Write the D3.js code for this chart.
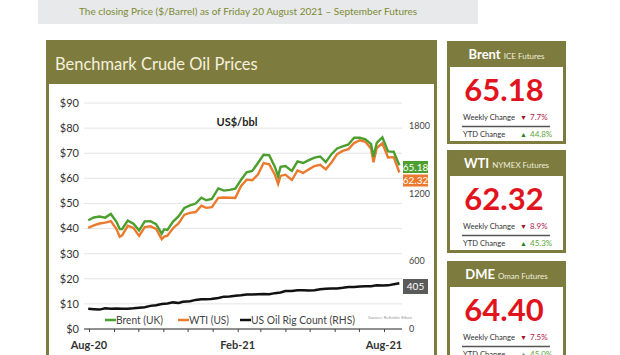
<!DOCTYPE html>
<html>
<head>
<meta charset="utf-8">
<script src="https://cdn.jsdelivr.net/npm/d3@7"></script>
<style>
  body { margin: 0; background: #fff; }
  svg { display: block; font-family: Lato, "Open Sans", sans-serif; }
</style>
</head>
<body>
<svg width="620" height="355"></svg>
<script>
// weekly closes, with a few mid-week lows
const priceDates = [
  "2020-07-31","2020-08-07","2020-08-14","2020-08-21","2020-08-28","2020-09-04","2020-09-08","2020-09-11",
  "2020-09-18","2020-09-25","2020-10-02","2020-10-09","2020-10-16","2020-10-23","2020-10-30","2020-11-02",
  "2020-11-06","2020-11-13","2020-11-20","2020-11-27","2020-12-04","2020-12-11","2020-12-18","2020-12-24",
  "2020-12-31","2021-01-08","2021-01-15","2021-01-22","2021-01-29","2021-02-05","2021-02-12","2021-02-19",
  "2021-02-26","2021-03-05","2021-03-12","2021-03-19","2021-03-23","2021-03-26","2021-04-01","2021-04-09",
  "2021-04-16","2021-04-23","2021-04-30","2021-05-07","2021-05-14","2021-05-21","2021-05-28","2021-06-04",
  "2021-06-11","2021-06-18","2021-06-25","2021-07-02","2021-07-09","2021-07-16","2021-07-19","2021-07-23",
  "2021-07-30","2021-08-06","2021-08-13","2021-08-20"
]
const brent = [
  43.3, 44.4, 44.8, 44.35, 45.81, 42.66, 39.78, 39.83,
  43.15, 41.92, 39.27, 42.85, 42.93, 41.77, 37.94, 39.71,
  39.45, 42.78, 44.96, 48.18, 49.25, 49.97, 52.26, 51.29,
  51.8, 55.99, 55.1, 55.41, 55.88, 59.34, 62.43, 62.91,
  66.13, 69.36, 69.22, 64.53, 60.79, 64.57, 64.86, 62.95,
  66.77, 66.11, 67.25, 68.28, 68.71, 66.44, 69.63, 71.89,
  72.69, 73.51, 76.18, 76.17, 75.55, 73.59, 68.62, 74.1,
  76.33, 70.7, 70.59, 65.18
]
const wti = [
  40.27, 41.22, 42.01, 42.34, 42.97, 39.77, 36.76, 37.33,
  41.11, 40.25, 37.05, 40.6, 40.88, 39.85, 35.79, 36.81,
  37.14, 40.13, 42.15, 45.53, 46.26, 46.57, 49.1, 48.23,
  48.52, 52.24, 52.36, 52.27, 52.2, 56.85, 59.47, 59.24,
  61.5, 66.09, 65.61, 61.42, 57.76, 60.97, 61.45, 59.32,
  63.13, 62.14, 63.58, 64.9, 65.37, 63.58, 66.32, 69.62,
  70.91, 71.64, 74.05, 75.16, 74.56, 71.81, 66.42, 72.07,
  73.95, 68.28, 68.44, 62.32
]

// Baker Hughes weekly US oil rigs
const rigDates = [
  "2020-07-31","2020-08-07","2020-08-14","2020-08-21","2020-08-28","2020-09-04","2020-09-11","2020-09-18",
  "2020-09-25","2020-10-02","2020-10-09","2020-10-16","2020-10-23","2020-10-30","2020-11-06","2020-11-13",
  "2020-11-20","2020-11-25","2020-12-04","2020-12-11","2020-12-18","2020-12-23","2020-12-30","2021-01-08",
  "2021-01-15","2021-01-22","2021-01-29","2021-02-05","2021-02-12","2021-02-19","2021-02-26","2021-03-05",
  "2021-03-12","2021-03-19","2021-03-26","2021-04-01","2021-04-09","2021-04-16","2021-04-23","2021-04-30",
  "2021-05-07","2021-05-14","2021-05-21","2021-05-28","2021-06-04","2021-06-11","2021-06-18","2021-06-25",
  "2021-07-02","2021-07-09","2021-07-16","2021-07-23","2021-07-30","2021-08-06","2021-08-13","2021-08-20"
]
const rigCount = [
  180, 176, 172, 183, 180, 181, 180, 179,
  183, 189, 193, 205, 211, 221, 226, 236,
  231, 241, 246, 258, 263, 264, 267, 275,
  287, 289, 295, 299, 306, 305, 309, 310,
  309, 318, 324, 337, 337, 344, 343, 342,
  344, 352, 356, 359, 359, 365, 373, 372,
  376, 378, 380, 387, 385, 387, 397, 405
]

const leftTicks = [0, 10, 20, 30, 40, 50, 60, 70, 80, 90]
const rightTicks = [0, 600, 1200, 1800]
const xLabels = ["2020-08-01", "2021-02-01", "2021-08-01"]

const cards = [
  { name: "Brent", sub: "ICE Futures", price: "65.18", weekly: "7.7%", ytd: "44.8%", top: 41 },
  { name: "WTI", sub: "NYMEX Futures", price: "62.32", weekly: "8.9%", ytd: "45.3%", top: 150 },
  { name: "DME", sub: "Oman Futures", price: "64.40", weekly: "7.5%", ytd: "45.0%", top: 261 }
]

const olive = "#7e7b3e"
const green = "#4c9f2f"
const orange = "#eb7a2e"

const parse = d3.timeParse("%Y-%m-%d")
const svg = d3.select("svg")

// top banner
svg.append("rect").attr("x", 38).attr("y", 0).attr("width", 440).attr("height", 24).attr("fill", "#e7e9eb")
svg.append("text").attr("x", 248).attr("y", 15).attr("text-anchor", "middle")
  .attr("font-size", 10).attr("fill", "#7d8a33")
  .text("The closing Price ($/Barrel) as of Friday 20 August 2021 \u2013 September Futures")

// main panel
svg.append("rect").attr("x", 47.5).attr("y", 41.5).attr("width", 388).attr("height", 320)
  .attr("fill", "#fff").attr("stroke", olive).attr("stroke-width", 3)
svg.append("rect").attr("x", 46).attr("y", 40).attr("width", 391).attr("height", 44).attr("fill", olive)
svg.append("text").attr("x", 55).attr("y", 70).attr("font-size", 16.5).attr("fill", "#f5f1dc")
  .text("Benchmark Crude Oil Prices")

const x = d3.scaleTime().domain([parse("2020-08-01"), parse("2021-08-01")]).range([89, 384])
const yL = d3.scaleLinear().domain([0, 90]).range([329, 103])
const yR = d3.scaleLinear().domain([0, 1800]).range([329, 126])

// gridlines
svg.append("g").selectAll("line").data(leftTicks.filter(d => d > 0)).join("line")
  .attr("x1", 84).attr("x2", 402)
  .attr("y1", d => yL(d)).attr("y2", d => yL(d))
  .attr("stroke", "#e4e4e4").attr("stroke-width", 1)

svg.append("g").selectAll("text").data(leftTicks).join("text")
  .attr("x", 79).attr("y", d => yL(d)).attr("dy", "0.35em").attr("text-anchor", "end")
  .attr("font-size", 11).attr("fill", "#333")
  .text(d => "$" + d)

svg.append("g").selectAll("text").data(rightTicks).join("text")
  .attr("x", 409).attr("y", d => yR(d)).attr("dy", "0.35em")
  .attr("font-size", 9).attr("fill", "#444")
  .text(d => d)

// x axis
const xAxis = d3.axisBottom(x)
  .ticks(d3.timeMonth.every(1))
  .tickSize(3)
  .tickFormat("")
const gx = svg.append("g").attr("transform", "translate(0,329)").call(xAxis)
gx.select(".domain").attr("d", "M84,0H402").attr("stroke", "#222")
gx.selectAll(".tick line").attr("stroke", "#444")

svg.append("g").selectAll("text").data(xLabels).join("text")
  .attr("x", d => x(parse(d))).attr("y", 349).attr("text-anchor", "middle")
  .attr("font-size", 11).attr("font-weight", "bold").attr("fill", "#333")
  .text(d => d3.timeFormat("%b-%y")(parse(d)))

svg.append("text").attr("x", 237).attr("y", 126).attr("text-anchor", "middle")
  .attr("font-size", 11).attr("font-weight", "bold").attr("fill", "#222").text("US$/bbl")

// lines
const prices = priceDates.map((d, i) => ({ date: parse(d), brent: brent[i], wti: wti[i] }))
const rigs = rigDates.map((d, i) => ({ date: parse(d), count: rigCount[i] }))

svg.append("path").datum(prices)
  .attr("fill", "none").attr("stroke", orange).attr("stroke-width", 2.4)
  .attr("d", d3.line().x(d => x(d.date)).y(d => yL(d.wti)))
svg.append("path").datum(prices)
  .attr("fill", "none").attr("stroke", green).attr("stroke-width", 2.4)
  .attr("d", d3.line().x(d => x(d.date)).y(d => yL(d.brent)))
svg.append("path").datum(rigs)
  .attr("fill", "none").attr("stroke", "#111").attr("stroke-width", 2.5)
  .attr("d", d3.line().x(d => x(d.date)).y(d => yR(d.count)))

// end value boxes
const endBoxes = [
  { label: brent[brent.length - 1].toFixed(2), y: 167, h: 12, fill: green },
  { label: wti[wti.length - 1].toFixed(2), y: 180.5, h: 12, fill: orange },
  { label: rigCount[rigCount.length - 1], y: 286.5, h: 15, fill: "#5a5a5a" }
]
const eb = svg.append("g").selectAll("g").data(endBoxes).join("g")
eb.append("rect").attr("x", 403).attr("y", d => d.y - d.h / 2).attr("width", 25).attr("height", d => d.h)
  .attr("fill", d => d.fill)
eb.append("text").attr("x", 415.5).attr("y", d => d.y).attr("dy", "0.35em").attr("text-anchor", "middle")
  .attr("font-size", 10).attr("fill", "#fff").text(d => d.label)

// legend
const legendItems = [
  { label: "Brent (UK)", color: green, x: 105, w: 47 },
  { label: "WTI (US)", color: orange, x: 178, w: 40 },
  { label: "US Oil Rig Count (RHS)", color: "#111", x: 240, w: 104 }
]
const lg = svg.append("g").selectAll("g").data(legendItems).join("g")
  .attr("transform", d => `translate(${d.x},320)`)
lg.append("line").attr("x1", 0).attr("x2", 11).attr("stroke", d => d.color).attr("stroke-width", 2.5)
lg.append("text").attr("x", 11).attr("dy", "0.35em").attr("font-size", 11.5).attr("fill", "#444")
  .attr("textLength", d => d.w).attr("lengthAdjust", "spacingAndGlyphs")
  .text(d => d.label)
svg.append("text").attr("x", 368).attr("y", 319).attr("font-size", 4.5).attr("fill", "#999")
  .text("Source: Refinitiv Eikon")

// price cards
const card = svg.append("g").selectAll("g").data(cards).join("g")
  .attr("transform", d => `translate(447,${d.top})`)
card.append("rect").attr("x", 1.5).attr("y", 1.5).attr("width", 116).attr("height", 100)
  .attr("fill", "#fff").attr("stroke", olive).attr("stroke-width", 3)
card.append("rect").attr("width", 119).attr("height", 26).attr("fill", olive)
const head = card.append("text").attr("x", 59.5).attr("y", 18).attr("text-anchor", "middle").attr("fill", "#fff")
head.append("tspan").attr("font-size", 13).attr("font-weight", "bold").text(d => d.name)
head.append("tspan").attr("font-size", 8).attr("dx", 3).attr("fill", "#f0eedd").text(d => d.sub)
card.append("text").attr("x", 57).attr("y", 60).attr("text-anchor", "middle")
  .attr("font-size", 31).attr("font-weight", "bold").attr("fill", "#e1131d")
  .text(d => d.price)
card.append("text").attr("x", 16).attr("y", 79).attr("font-size", 7.6).attr("fill", "#333").text("Weekly Change")
card.append("text").attr("x", 73).attr("y", 79).attr("font-size", 7).attr("fill", "#a8122c").text("\u25BC")
card.append("text").attr("x", 83).attr("y", 79).attr("font-size", 8).attr("fill", "#b0204a").text(d => d.weekly)
card.append("line").attr("x1", 15).attr("x2", 103).attr("y1", 85.5).attr("y2", 85.5)
  .attr("stroke", "#555").attr("stroke-width", 1.5)
card.append("text").attr("x", 16).attr("y", 96).attr("font-size", 7.6).attr("fill", "#333").text("YTD Change")
card.append("text").attr("x", 73).attr("y", 96).attr("font-size", 7).attr("fill", "#2f7d22").text("\u25B2")
card.append("text").attr("x", 83).attr("y", 96).attr("font-size", 8).attr("fill", "#5aa63a").text(d => d.ytd)
</script>
</body>
</html>
